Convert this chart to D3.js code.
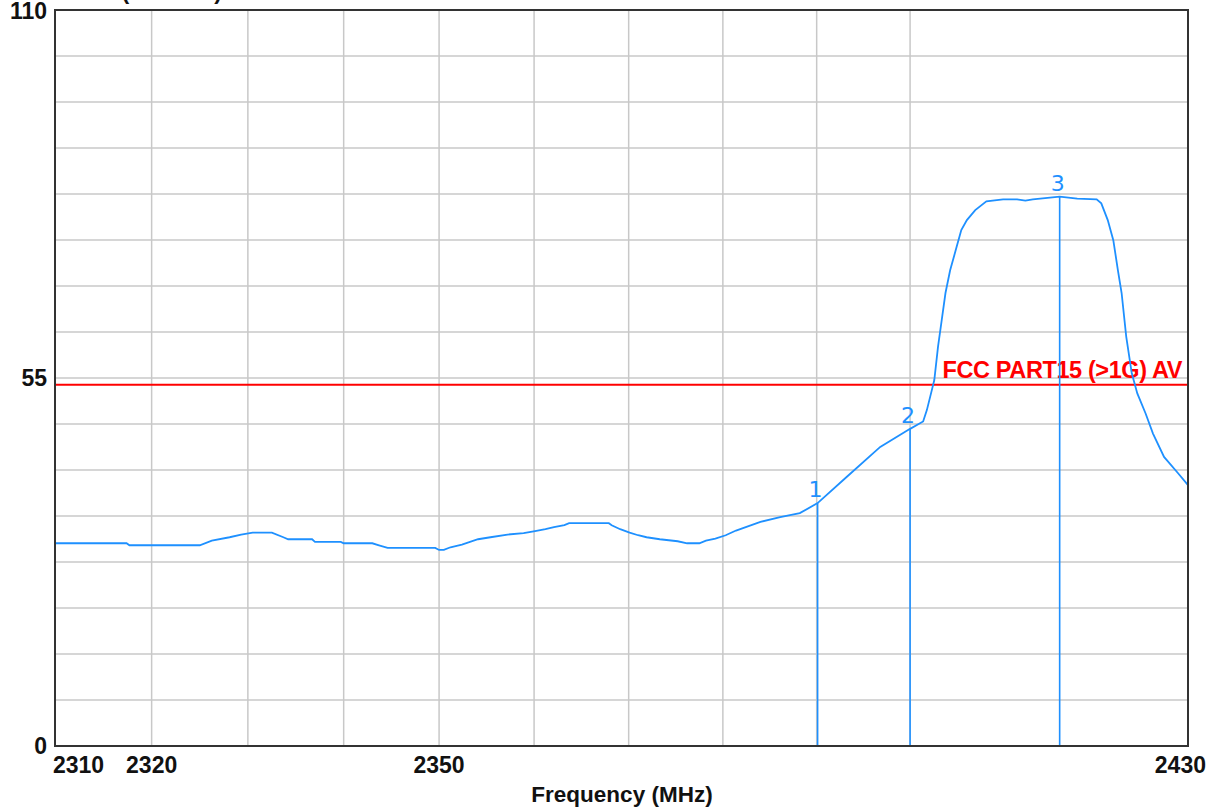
<!DOCTYPE html>
<html><head><meta charset="utf-8">
<script src="https://cdn.jsdelivr.net/npm/d3@7"></script>
<style>body{margin:0;background:#fff}svg{display:block}</style>
</head><body>
<svg id="c" width="1217" height="808"></svg>
<script>
const freq = [2310,2317.4,2317.7,2325.0,2326.25,2328.1,2329.3,2330.5,2332.5,2333.7,2334.2,2336.7,2337.0,2339.7,2340.0,2343.0,2343.7,2344.6,2349.6,2350.0,2350.5,2351.2,2352.4,2354.1,2355.4,2357.2,2358.9,2360.1,2361.2,2362.1,2363.2,2363.7,2367.9,2368.2,2369.1,2370.1,2371.0,2371.9,2373.3,2375.2,2376.2,2377.5,2378.2,2379.2,2380.3,2381.4,2384.0,2386.1,2388.2,2390.1,2393.2,2396.8,2400.0,2401.4,2401.8,2402.3,2402.6,2403.0,2403.4,2403.8,2404.3,2405.0,2405.5,2406.1,2407.0,2408.2,2410.0,2411.5,2412.4,2413.2,2414.0,2416.1,2418.0,2420.1,2420.6,2421.3,2421.9,2422.4,2422.8,2423.3,2423.9,2424.5,2425.4,2426.2,2427.4,2428.9,2430];
const level = [30.3,30.3,30.0,30.0,30.7,31.2,31.6,31.9,31.9,31.2,30.9,30.9,30.5,30.5,30.3,30.3,30.0,29.6,29.6,29.3,29.3,29.7,30.1,30.9,31.2,31.6,31.8,32.1,32.4,32.7,33.0,33.3,33.3,33.0,32.4,31.9,31.5,31.2,30.9,30.6,30.3,30.3,30.7,31.0,31.5,32.2,33.5,34.2,34.8,36.3,40.2,44.7,47.4,48.5,50.2,53.0,54.7,59.7,63.7,67.7,71.1,74.6,77.1,78.6,80.1,81.4,81.7,81.7,81.5,81.7,81.8,82.1,81.8,81.7,81.1,78.6,75.6,71.1,67.7,61.2,55.7,52.7,49.7,46.7,43.2,40.8,39.0];
const markerLabels = ["1","2","3"];
const markerFreq = [2390.1,2400.0,2416.1];
const markerLevel = [36.3,47.4,82.1];
const limitValue = 54;
const limitLabel = "FCC PART15 (>1G) AV";
const xTickValues = [2310,2320,2350,2430];
const xGridValues = [2320,2330,2340,2350,2360,2370,2380,2390,2400];
const yTickValues = [0,55,110];
const yGridValues = d3.range(1,16).map(i => i*110/16);
const xTitle = "Frequency (MHz)";
const yTitle = "Level (dBuV/m)";

const svg = d3.select("#c");
const L=55,R=1188,T=10,B=746;
const x = d3.scaleLog().domain([2310,2430]).range([L,R]);
const y = d3.scaleLinear().domain([0,110]).range([B,T]);
const blue = "#1e90ff";
const FONT = "Liberation Sans, Arial, sans-serif";

// grid
svg.append("g").selectAll("line").data(yGridValues).join("line")
  .attr("x1",L).attr("x2",R).attr("y1",d=>y(d)).attr("y2",d=>y(d))
  .attr("stroke","#c8c8c8").attr("stroke-width",1.5);
svg.append("g").selectAll("line").data(xGridValues).join("line")
  .attr("y1",T).attr("y2",B).attr("x1",d=>x(d)).attr("x2",d=>x(d))
  .attr("stroke","#c8c8c8").attr("stroke-width",1.5);

// limit line
svg.append("line").attr("x1",L).attr("x2",R).attr("y1",y(limitValue)).attr("y2",y(limitValue))
  .attr("stroke","#ff0000").attr("stroke-width",2);
svg.append("text").attr("x",R-6).attr("y",y(limitValue)-7).attr("text-anchor","end")
  .attr("font-family",FONT).attr("font-weight","bold")
  .attr("font-size",23.5).attr("letter-spacing",-0.4).attr("fill","#ff0000").text(limitLabel);

// markers
const mk = svg.append("g");
markerFreq.forEach((f,i)=>{
  mk.append("line").attr("x1",x(f)).attr("x2",x(f)).attr("y1",y(markerLevel[i])).attr("y2",B)
    .attr("stroke",blue).attr("stroke-width",1.6);
  mk.append("text").attr("x",x(f)-2).attr("y",y(markerLevel[i])-6).attr("text-anchor","middle")
    .attr("font-family","DejaVu Sans, sans-serif").attr("font-size",22).attr("fill",blue)
    .text(markerLabels[i]);
});

// curve
const pts = freq.map((f,i)=>[f,level[i]]);
svg.append("path").datum(pts)
  .attr("d",d3.line().x(d=>x(d[0])).y(d=>y(d[1])))
  .attr("fill","none").attr("stroke",blue).attr("stroke-width",1.8);

// frame
svg.append("rect").attr("x",L).attr("y",T).attr("width",R-L).attr("height",B-T)
  .attr("fill","none").attr("stroke","#333").attr("stroke-width",2);

// y ticks
svg.append("g").selectAll("text").data(yTickValues).join("text")
  .attr("x",L-8).attr("y",d=>y(d) + (d===110 ? 9 : 8)).attr("text-anchor","end")
  .attr("font-family",FONT).attr("font-weight","bold")
  .attr("font-size",23).attr("fill","#111").text(d=>d);

// x ticks
svg.append("g").selectAll("text").data(xTickValues).join("text")
  .attr("x",(d,i)=> i===0 ? x(d)-2 : (i===xTickValues.length-1 ? x(d)+18 : x(d)))
  .attr("y",773)
  .attr("text-anchor",(d,i)=> i===0 ? "start" : (i===xTickValues.length-1 ? "end" : "middle"))
  .attr("font-family",FONT).attr("font-weight","bold")
  .attr("font-size",23).attr("fill","#111").text(d=>d);

svg.append("text").attr("x",622).attr("y",802).attr("text-anchor","middle")
  .attr("font-family",FONT).attr("font-weight","bold")
  .attr("font-size",22.5).attr("fill","#111").text(xTitle);
svg.append("text").attr("x",58).attr("y",-1)
  .attr("font-family",FONT).attr("font-weight","bold")
  .attr("font-size",22.5).attr("fill","#111").text(yTitle);
</script>
</body></html>
